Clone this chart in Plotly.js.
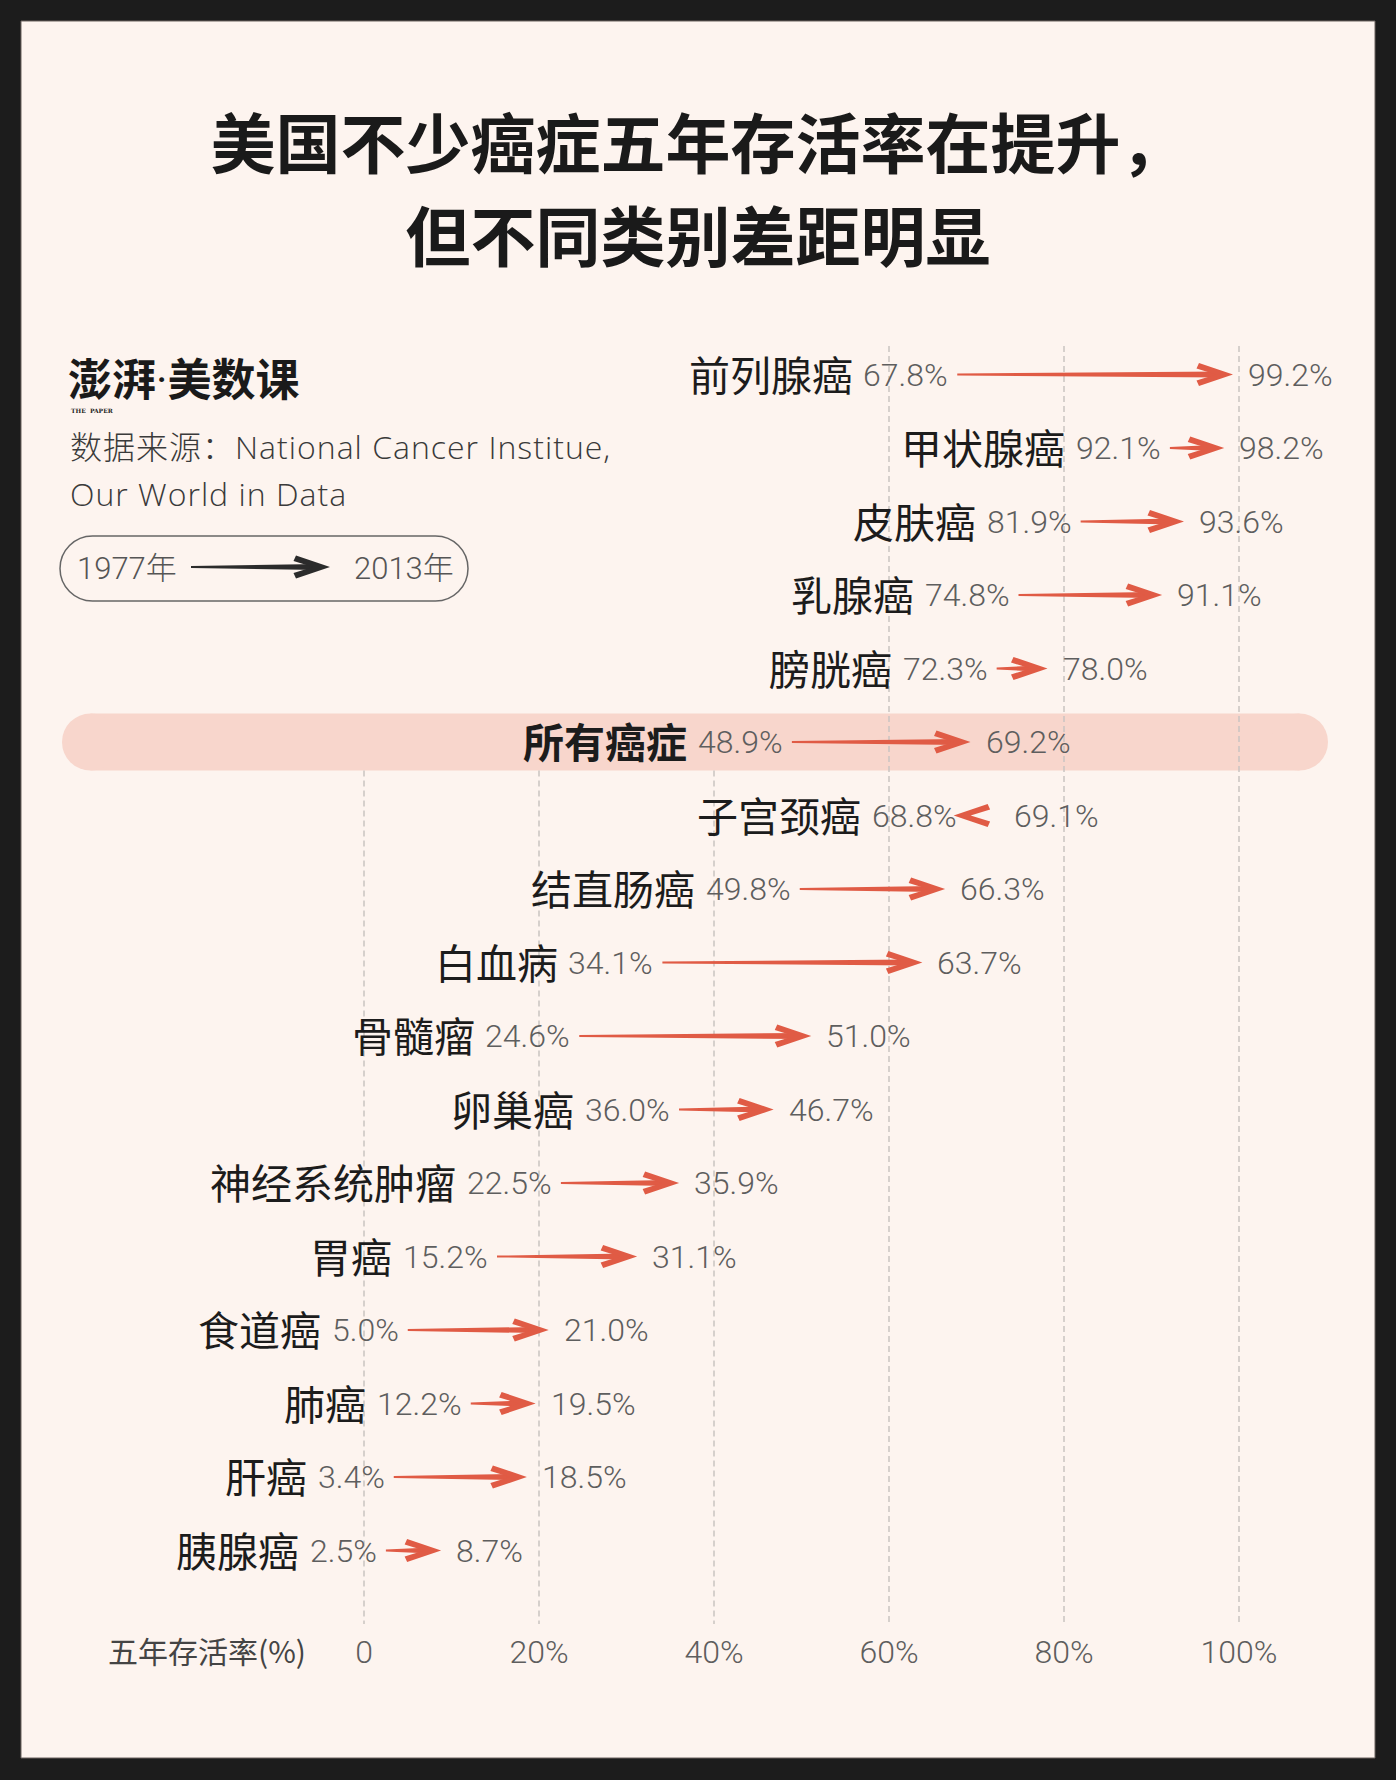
<!DOCTYPE html>
<html><head><meta charset="utf-8">
<script src="https://cdn.plot.ly/plotly-3.0.1.min.js"></script>
<style>html,body{margin:0;padding:0;background:#1c1c1c;} #chart{width:1396px;height:1780px;}</style>
</head><body><div id="chart"></div>
<script>
// ---------- data ----------
const categories = ['前列腺癌','甲状腺癌','皮肤癌','乳腺癌','膀胱癌','所有癌症','子宫颈癌','结直肠癌','白血病','骨髓瘤','卵巢癌','神经系统肿瘤','胃癌','食道癌','肺癌','肝癌','胰腺癌'];
const rate1977 = [67.8, 92.1, 81.9, 74.8, 72.3, 48.9, 68.8, 49.8, 34.1, 24.6, 36.0, 22.5, 15.2, 5.0, 12.2, 3.4, 2.5];
const rate2013 = [99.2, 98.2, 93.6, 91.1, 78.0, 69.2, 69.1, 66.3, 63.7, 51.0, 46.7, 35.9, 31.1, 21.0, 19.5, 18.5, 8.7];
const highlightCategory = '所有癌症';
const tickValues = [0, 20, 40, 60, 80, 100];
const tickLabels = ['0', '20%', '40%', '60%', '80%', '100%'];
const titleLines = ['美国不少癌症五年存活率在提升，', '但不同类别差距明显'];
const sourceLines = ['数据来源：National Cancer Institue,', 'Our World in Data'];
const legendYears = ['1977年', '2013年'];
const axisTitle = '五年存活率(%)';
const brandText = ['澎湃', '美数课'];

// ---------- geometry / style ----------
const W = 1396, H = 1780;
const X0PX = 364, PXU = 8.75;      // pixel of 0%, pixels per 1%
const ROW0 = 374.5, ROWH = 73.5;   // pixel of first row, row pitch
const fx = px => px / W;
const fy = py => 1 - py / H;
const NUM = "Roboto,'Noto Sans CJK SC',sans-serif";
const CJK = "'Noto Sans CJK SC','Noto Sans CJK JP',sans-serif";
const RED = '#e05b45';
const CREAM = '#fdf4ef';
const GREY = '#5e5e5e';
const VAL_SIZE = 32;

// text measuring for placing the category label left of the start value
const mctx = document.createElement('canvas').getContext('2d');
mctx.font = `300 ${VAL_SIZE}px Roboto`;
const textW = s => mctx.measureText(s).width;

const shapes = [];
// cream card
shapes.push({type:'rect', xref:'paper', yref:'paper', x0:fx(21), x1:fx(1375), y0:fy(1758), y1:fy(21),
  fillcolor:CREAM, line:{color:'#6a625e', width:1}, layer:'below'});

// highlight band (pill)
const hi = categories.indexOf(highlightCategory);
const bandHalf = 28.5 / ROWH;
const bx0 = 62, bx1 = 1328, br = 28.5, BAND = '#f8d6cc';
shapes.push({type:'rect', xref:'paper', yref:'y', x0:fx(bx0+br), x1:fx(bx1-br), y0:hi-bandHalf, y1:hi+bandHalf,
  fillcolor:BAND, line:{width:0}, layer:'below'});
shapes.push({type:'circle', xref:'paper', yref:'y', x0:fx(bx0), x1:fx(bx0+2*br), y0:hi-bandHalf, y1:hi+bandHalf,
  fillcolor:BAND, line:{width:0}, layer:'below'});
shapes.push({type:'circle', xref:'paper', yref:'y', x0:fx(bx1-2*br), x1:fx(bx1), y0:hi-bandHalf, y1:hi+bandHalf,
  fillcolor:BAND, line:{width:0}, layer:'below'});

// dashed gridlines
tickValues.forEach(v => {
  shapes.push({type:'line', xref:'x', yref:'y', x0:v, x1:v,
    y0: v >= 60 ? -bandHalf : hi + bandHalf, y1: categories.length,
    line:{color:'#c9c4c1', width:1.5, dash:'6px,4px'}, layer:'below'});
});

// arrows
const HEAD = [[1,0],[-33,11.5],[-35.5,6],[-16,0],[-35.5,-6],[-33,-11.5]];
const HEADLEN = 36;
function headPath(flip){ return 'M' + HEAD.map(([x,y]) => `${flip ? -14 - x : x},${y}`).join('L') + 'Z'; }
function shaftPath(a, b){ return `M${a},0.9L${b},3.1L${b},-3.1L${a},-0.9Z`; }

const annotations = [];
categories.forEach((cat, i) => {
  const a = rate1977[i], b = rate2013[i];
  const flip = (b - a) * PXU < HEADLEN;
  if (!flip) {
    shapes.push({type:'path', xref:'x', yref:'y', ysizemode:'pixel', yanchor:i,
      path: shaftPath(a, b - 10 / PXU), fillcolor:RED, line:{width:0}});
  }
  shapes.push({type:'path', xref:'x', yref:'y', xsizemode:'pixel', xanchor:b, ysizemode:'pixel', yanchor:i,
    path: headPath(flip), fillcolor:RED, line:{width:0}});

  const isHi = cat === highlightCategory;
  const startTxt = `${a.toFixed(1)}%`;
  annotations.push({xref:'x', yref:'y', x:a, y:i, xanchor:'right', yanchor:'middle', xshift:-7, showarrow:false,
    text:startTxt, font:{family:NUM, size:VAL_SIZE, color:GREY, weight:300}});
  annotations.push({xref:'x', yref:'y', x:a, y:i, xanchor:'right', yanchor:'middle',
    xshift: -(7 + textW(startTxt) + 11), yshift:2, showarrow:false,
    text: isHi ? `<b>${cat}</b>` : cat, font:{family:CJK, size:41, color:'#1c1c1c'}});
  annotations.push({xref:'x', yref:'y', x:b, y:i, xanchor:'left', yanchor:'middle', xshift: flip ? 43 : 14, showarrow:false,
    text:`${b.toFixed(1)}%`, font:{family:NUM, size:VAL_SIZE, color:GREY, weight:300}});
});

// legend pill + arrow
(function(){
  const x0=60, x1=468, y0=536, y1=601, r=32.5, k=0.5523*r;
  const P = (x,y) => `${fx(x)},${fy(y)}`;
  const path = `M${P(x0+r,y0)}L${P(x1-r,y0)}C${P(x1-r+k,y0)} ${P(x1,y0+r-k)} ${P(x1,y0+r)}` +
    `C${P(x1,y0+r+k)} ${P(x1-r+k,y1)} ${P(x1-r,y1)}L${P(x0+r,y1)}` +
    `C${P(x0+r-k,y1)} ${P(x0,y1-r+k)} ${P(x0,y0+r)}C${P(x0,y0+r-k)} ${P(x0+r-k,y0)} ${P(x0+r,y0)}Z`;
  shapes.push({type:'path', xref:'paper', yref:'paper', path, line:{color:'#666', width:1.5}, fillcolor:'rgba(0,0,0,0)'});
  shapes.push({type:'path', xref:'paper', yref:'paper', ysizemode:'pixel', yanchor:fy(567),
    path:`M${fx(191)},0.9L${fx(319)},3.1L${fx(319)},-3.1L${fx(191)},-0.9Z`, fillcolor:'#2b2b2b', line:{width:0}});
  shapes.push({type:'path', xref:'paper', yref:'paper', xsizemode:'pixel', xanchor:fx(329), ysizemode:'pixel', yanchor:fy(567),
    path: headPath(false), fillcolor:'#2b2b2b', line:{width:0}});
  annotations.push({xref:'paper', yref:'paper', x:fx(75), y:fy(568), xanchor:'left', yanchor:'middle', showarrow:false,
    text:legendYears[0], font:{family:NUM, size:31, color:'#555', weight:300}});
  annotations.push({xref:'paper', yref:'paper', x:fx(352), y:fy(568), xanchor:'left', yanchor:'middle', showarrow:false,
    text:legendYears[1], font:{family:NUM, size:31, color:'#555', weight:300}});
})();

// brand
annotations.push({xref:'paper', yref:'paper', x:fx(66), y:fy(377), xanchor:'left', yanchor:'middle', showarrow:false,
  text:`<b>${brandText[0]}</b><span style="font-family:Roboto">·</span><b>${brandText[1]}</b>`,
  font:{family:CJK, size:44, color:'#1a1a1a'}});
annotations.push({xref:'paper', yref:'paper', x:fx(69), y:fy(410), xanchor:'left', yanchor:'middle', showarrow:false,
  text:'<b>THE  PAPER</b>', font:{family:'DejaVu Serif, serif', size:6, color:'#1a1a1a'}});

// source
sourceLines.forEach((s, j) => {
  annotations.push({xref:'paper', yref:'paper', x:fx(68), y:fy(447 + j*46), xanchor:'left', yanchor:'middle', showarrow:false,
    text:`<span style="letter-spacing:1px">${s}</span>`,
    font:{family:"'Open Sans','Noto Sans CJK SC',sans-serif", size:32, color:'#3a3a3a', weight:300}});
});

// axis title
annotations.push({xref:'paper', yref:'paper', x:fx(106), y:fy(1650), xanchor:'left', yanchor:'middle', showarrow:false,
  text:axisTitle, font:{family:CJK, size:30, color:'#444'}});

const trace = {type:'scatter', mode:'markers', x:rate2013, y:categories.map((c,i)=>i),
  marker:{opacity:0, size:1}, hoverinfo:'skip', showlegend:false};

const layout = {
  width:W, height:H, margin:{l:0, r:0, t:0, b:0, pad:0},
  paper_bgcolor:'#1c1c1c', plot_bgcolor:'rgba(0,0,0,0)',
  title:{text: titleLines.map(l => `<span style="font-size:65px">${l}</span>`).join('<br>'),
    font:{family:CJK, size:72, color:'#1a1a1a', weight:700},
    xref:'paper', x:0.5, xanchor:'center', yref:'container', y:fy(167.5), yanchor:'middle'},
  xaxis:{range:[-X0PX/PXU, (W-X0PX)/PXU], domain:[0,1], tickvals:tickValues, ticktext:tickLabels,
    showgrid:false, zeroline:false, showline:false, ticks:'', anchor:'free', position:fy(1630),
    tickfont:{family:NUM, size:32, color:GREY, weight:300}, fixedrange:true},
  yaxis:{range:[(H-ROW0)/ROWH, -ROW0/ROWH], domain:[0,1], visible:false, fixedrange:true},
  shapes, annotations, showlegend:false
};
Plotly.newPlot('chart', [trace], layout, {staticPlot:true, displayModeBar:false});
</script>
</body></html>
